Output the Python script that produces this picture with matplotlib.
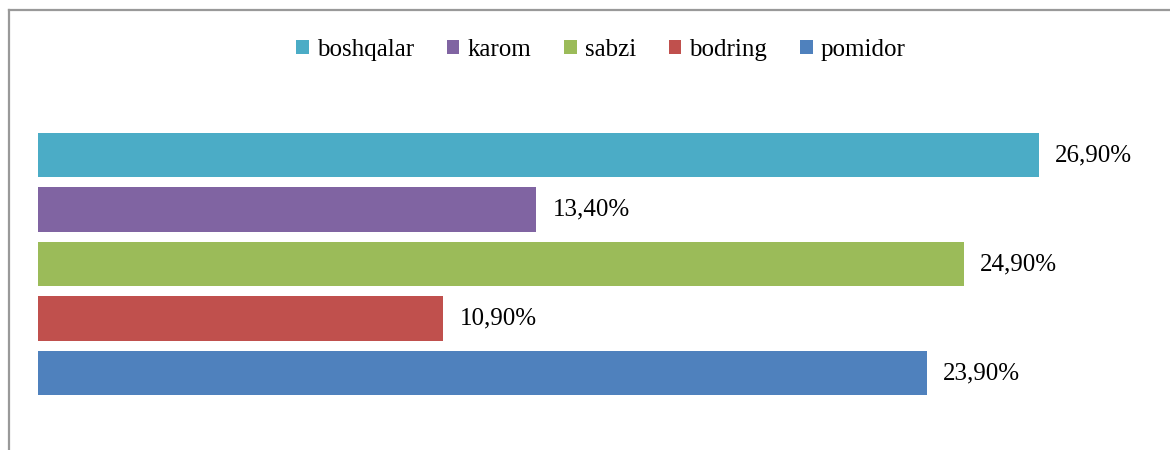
import matplotlib.pyplot as plt
from matplotlib.lines import Line2D
from matplotlib.patches import Patch

# --------------------------------------------------
# Data
# --------------------------------------------------
categories = ["pomidor", "bodring", "sabzi", "karom", "boshqalar"]
values = [23.9, 10.9, 24.9, 13.4, 26.9]
colors = ["#4F81BD", "#C0504D", "#9BBB59", "#8064A2", "#4BACC6"]

W, H = 1170, 450
plt.rcParams["font.family"] = ["Liberation Serif", "DejaVu Serif"]

fig = plt.figure(figsize=(W / 100, H / 100), dpi=100)

# axes placed by pixels: left 38, top 100, bottom 430, right 1150
ax = fig.add_axes([38 / W, 1 - 430 / H, (1150 - 38) / W, 330 / H])
positions = list(range(len(categories)))
for pos, val, col in zip(positions, values, colors):
    ax.barh(pos, val, height=0.81, color=col)
    ax.text(val + 0.43, pos, f"{val:.2f}".replace(".", ",") + "%",
            va="center", ha="left", fontsize=18)

ax.set_xlim(0, 1112 / 37.2)
ax.set_ylim(-1.046, 5.009)
ax.axis("off")

# legend (reverse order, like the original)
handles = [Patch(facecolor=c, edgecolor="none") for c in colors[::-1]]
fig.legend(handles, categories[::-1], loc="center", ncol=5,
           bbox_to_anchor=(0.5 + 16 / W, 1 - 50 / H), frameon=False, fontsize=18,
           handlelength=0.5, handleheight=0.5, handletextpad=0.32,
           columnspacing=1.32)

# chart area border (only top and left visible)
fig.add_artist(Line2D([8.5 / W, 8.5 / W], [1 - 9.5 / H, 0], color="#999999",
                      lw=1.6, transform=fig.transFigure))
fig.add_artist(Line2D([8.5 / W, 1], [1 - 9.5 / H, 1 - 9.5 / H], color="#999999",
                      lw=1.6, transform=fig.transFigure))

fig.savefig("out.png", dpi=100)
plt.close(fig)
